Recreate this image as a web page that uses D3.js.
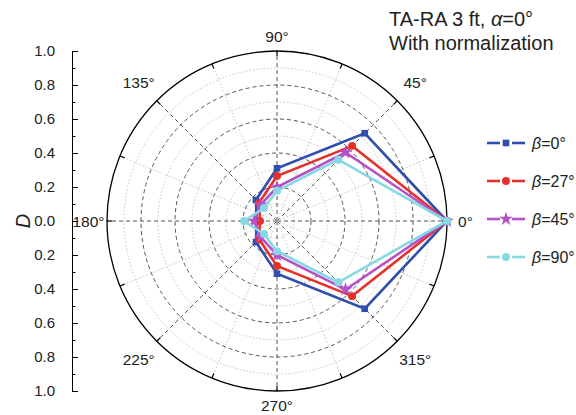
<!DOCTYPE html>
<html><head><meta charset="utf-8">
<script src="https://cdn.jsdelivr.net/npm/d3@7"></script>
<style>
html,body{margin:0;padding:0;background:#fff;}
svg{display:block;font-family:"Liberation Sans",Arial,sans-serif;}
</style></head>
<body>
<svg id="chart" width="576" height="415"></svg>
<script>
// ---- data ----
const angles = [0, 45, 90, 135, 180, 225, 270, 315];
const beta0  = [1.0, 0.73, 0.31, 0.175, 0.12, 0.175, 0.31, 0.73];
const beta27 = [1.0, 0.625, 0.265, 0.15, 0.10, 0.15, 0.265, 0.625];
const beta45 = [1.0, 0.57, 0.20, 0.135, 0.135, 0.135, 0.20, 0.57];
const beta90 = [1.0, 0.51, 0.178, 0.108, 0.194, 0.108, 0.178, 0.51];
const seriesNames = ["0°", "27°", "45°", "90°"];
const angleTicks = [0, 45, 90, 135, 180, 225, 270, 315];
const radialTickLabels = ["1.0","0.8","0.6","0.4","0.2","0.0","0.2","0.4","0.6","0.8","1.0"];

const series = [
  {name: seriesNames[0], values: beta0,  color: "#2f4fae", symbol: d3.symbolSquare, size: 44},
  {name: seriesNames[1], values: beta27, color: "#e6302a", symbol: d3.symbolCircle, size: 50},
  {name: seriesNames[2], values: beta45, color: "#b652c9", symbol: d3.symbolStar,   size: 60},
  {name: seriesNames[3], values: beta90, color: "#86d9e3", symbol: d3.symbolCircle, size: 50}
];

// ---- layout ----
const svg = d3.select("#chart");
const cx = 277, cy = 221, R = 170;
const r = d3.scaleLinear().domain([0, 1]).range([0, R]);
const rad = d => d * Math.PI / 180;
const px = (deg, v) => cx + r(v) * Math.cos(rad(deg));
const py = (deg, v) => cy - r(v) * Math.sin(rad(deg));

const g = svg.append("g");

// grid circles
d3.range(1, 10).forEach(i => {
  const major = i % 2 === 0;
  g.append("circle").attr("cx", cx).attr("cy", cy).attr("r", r(i / 10))
    .attr("fill", "none")
    .attr("stroke", major ? "#555" : "#c4c4c4")
    .attr("stroke-width", 1)
    .attr("stroke-dasharray", major ? "4,3" : "1.5,2");
});
// radial lines
d3.range(0, 360, 22.5).forEach(a => {
  const major = a % 45 === 0;
  g.append("line")
    .attr("x1", cx).attr("y1", cy)
    .attr("x2", px(a, 1)).attr("y2", py(a, 1))
    .attr("stroke", major ? "#555" : "#c4c4c4")
    .attr("stroke-width", 1)
    .attr("stroke-dasharray", major ? "4,3" : "1.5,2");
  g.append("line")
    .attr("x1", px(a, 1)).attr("y1", py(a, 1))
    .attr("x2", px(a, 1 - 5 / R)).attr("y2", py(a, 1 - 5 / R))
    .attr("stroke", "#000").attr("stroke-width", 1.2);
});
// outer circle
g.append("circle").attr("cx", cx).attr("cy", cy).attr("r", R)
  .attr("fill", "none").attr("stroke", "#000").attr("stroke-width", 1.3);

// angle labels
angleTicks.forEach(a => {
  const lr = 186.5 + 2 * Math.cos(rad(2 * a)) + 9 * Math.abs(Math.sin(rad(2 * a)));
  g.append("text")
    .attr("x", cx + lr * Math.cos(rad(a)))
    .attr("y", cy - lr * Math.sin(rad(a)))
    .attr("text-anchor", "middle")
    .attr("dominant-baseline", "central")
    .attr("font-size", 15.5).attr("fill", "#222")
    .text(a + "°");
});

// series
const line = d3.lineRadial()
  .angle((d, i) => Math.PI / 2 - rad(angles[i]))
  .radius(d => r(d))
  .curve(d3.curveLinearClosed);

series.forEach(s => {
  const sg = g.append("g");
  sg.append("path")
    .attr("transform", `translate(${cx},${cy})`)
    .attr("d", line(s.values))
    .attr("fill", "none")
    .attr("stroke", s.color)
    .attr("stroke-width", 2.6)
    .attr("stroke-linejoin", "miter");
  sg.selectAll("path.m").data(s.values).join("path")
    .attr("class", "m")
    .attr("transform", (d, i) => `translate(${px(angles[i], d)},${py(angles[i], d)})`)
    .attr("d", d3.symbol().type(s.symbol).size(s.size))
    .attr("fill", s.color);
});

// left radial axis
const y = d3.scaleLinear().domain([-1, 1]).range([cy + R, cy - R]);
const axX = 72;
const majorTicks = d3.range(-5, 6).map(i => i / 5);
const minorTicks = d3.range(-9, 10, 2).map(i => i / 10);
const axG = svg.append("g").attr("transform", `translate(${axX},0)`);
axG.call(d3.axisLeft(y).tickValues(majorTicks).tickSize(-6).tickSizeOuter(0).tickPadding(17)
  .tickFormat((d, i) => radialTickLabels[majorTicks.length - 1 - i]));
axG.selectAll("text").attr("font-size", 15).attr("fill", "#222")
  .attr("font-family", "Liberation Sans, Arial, sans-serif");
axG.select(".domain").attr("stroke", "#000");
axG.selectAll(".tick line").attr("stroke", "#000");
const axM = svg.append("g").attr("transform", `translate(${axX},0)`);
axM.call(d3.axisLeft(y).tickValues(minorTicks).tickSize(-3.5).tickSizeOuter(0).tickFormat(""));
axM.select(".domain").remove();
axM.selectAll(".tick line").attr("stroke", "#000");

svg.append("text")
  .attr("transform", `translate(23,${cy}) rotate(-90)`)
  .attr("text-anchor", "middle").attr("dominant-baseline", "central")
  .attr("font-size", 20).attr("font-style", "italic").attr("fill", "#222")
  .text("D");

// title
const title = svg.append("text").attr("x", 389).attr("font-size", 20).attr("fill", "#222");
title.append("tspan").attr("x", 389).attr("y", 26).text("TA-RA 3 ft, ");
title.append("tspan").attr("font-style", "italic").text("α");
title.append("tspan").text("=0°");
svg.append("text").attr("x", 389).attr("y", 50).attr("font-size", 20).attr("fill", "#222")
  .text("With normalization");

// legend
const lg = svg.append("g");
series.forEach((s, i) => {
  const ly = 143 + i * 38;
  const row = lg.append("g").attr("transform", `translate(0,${ly})`);
  row.append("line").attr("x1", 487).attr("x2", 500).attr("y1", 0).attr("y2", 0)
    .attr("stroke", s.color).attr("stroke-width", 2.6);
  row.append("line").attr("x1", 512).attr("x2", 525).attr("y1", 0).attr("y2", 0)
    .attr("stroke", s.color).attr("stroke-width", 2.6);
  row.append("path").attr("transform", "translate(506,0)")
    .attr("d", d3.symbol().type(s.symbol).size(s.size)).attr("fill", s.color);
  const t = row.append("text").attr("x", 532).attr("y", 0).attr("dy", "0.36em")
    .attr("font-size", 16).attr("fill", "#222");
  t.append("tspan").attr("font-style", "italic").text("β");
  t.append("tspan").text("=" + s.name);
});
</script>
</body></html>
